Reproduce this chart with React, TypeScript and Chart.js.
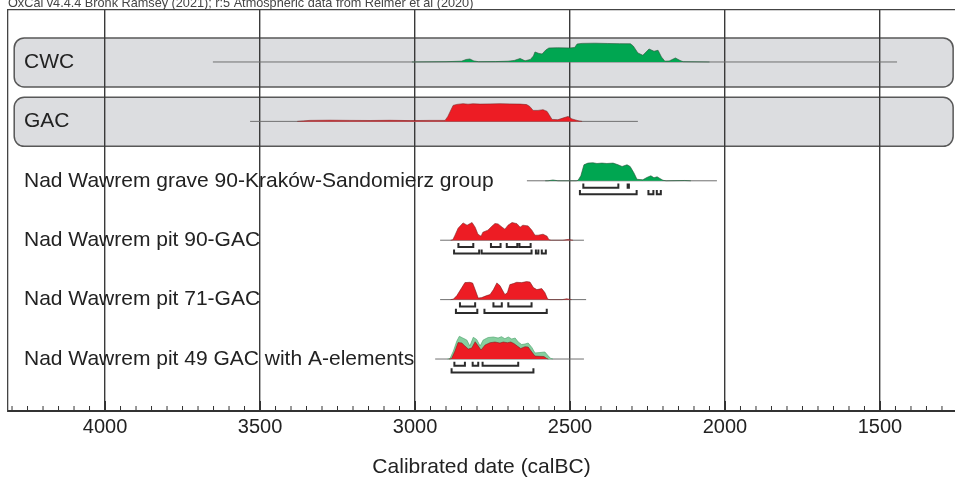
import { useEffect, useRef } from 'react';
import { Chart, registerables } from 'chart.js';

Chart.register(...registerables);

const FONT = "'Liberation Sans', Arial, Helvetica, sans-serif";

const CAPTION = 'OxCal v4.4.4 Bronk Ramsey (2021); r:5 Atmospheric data from Reimer et al (2020)';
const AXIS_TITLE = 'Calibrated date (calBC)';

const ROW_LABELS = [
  'CWC',
  'GAC',
  'Nad Wawrem grave 90-Kraków-Sandomierz group',
  'Nad Wawrem pit 90-GAC',
  'Nad Wawrem pit 71-GAC',
  'Nad Wawrem pit 49 GAC with A-elements',
];
const ROW_Y = [5, 4, 3, 2, 1, 0];

// axis range (calBC, reversed)
const X_MIN = 1258;
const X_MAX = 4313;
const Y_MIN = -0.875;
const Y_MAX = 5.875;

// group boxes (rows, date extent)
const BOX_ROWS = [5, 4];
const BOX_SPAN = [4293, 1264];

// thin range lines [from, to] (calBC)
const CWC_RANGE = [3652, 1445];
const GAC_RANGE = [3532, 2281];
const GRAVE90_RANGE = [2639, 2026];
const PIT90_RANGE = [2919, 2455];
const PIT71_RANGE = [2919, 2448];
const PIT49_RANGE = [2935, 2455];

// probability distributions: [calBC, relative probability]
const CWC_POST: [number, number][] = [
  [3010, 0], [2900, 0.3], [2850, 0.8], [2835, 2.5], [2823, 3], [2810, 1], [2795, 0.3], [2740, 0.4],
  [2700, 0.8], [2680, 1.5], [2661, 3.5], [2645, 1.2], [2628, 2.5], [2618, 6], [2613, 10], [2600, 8.5],
  [2590, 8], [2578, 12], [2568, 14], [2540, 14.2], [2500, 14], [2485, 14.5], [2477, 18], [2461, 18.6],
  [2420, 18.8], [2380, 18.5], [2340, 18.3], [2305, 18.2], [2296, 16], [2281, 9], [2265, 6.7],
  [2245, 13], [2229, 10.7], [2216, 11.7], [2205, 5], [2194, 0.8], [2180, 1], [2160, 4], [2145, 1.5],
  [2135, 0.3], [2050, 0],
];
const GAC_POST: [number, number][] = [
  [3380, 0], [3361, 0.5], [3339, 1], [3274, 1.2], [3210, 1], [3145, 0.9], [3081, 1.1], [3016, 0.8],
  [2952, 1], [2903, 1], [2894, 5], [2877, 16], [2865, 17], [2845, 17.7], [2829, 17.2], [2813, 17.6],
  [2790, 17.3], [2758, 17.5], [2726, 17.7], [2694, 17.5], [2661, 17.3], [2640, 16.8], [2630, 15],
  [2619, 11], [2603, 11], [2587, 11.7], [2574, 10], [2558, 2], [2539, 1.7], [2523, 3.3], [2506, 5],
  [2494, 2.5], [2474, 0.7], [2461, 0],
];
const GRAVE90_POST: [number, number][] = [
  [2580, 0], [2571, 0], [2555, 0.8], [2539, 0], [2480, 0], [2474, 0.5], [2465, 5], [2455, 16],
  [2442, 17.7], [2426, 18], [2413, 17.3], [2397, 17.7], [2381, 17.3], [2361, 17.7], [2345, 16],
  [2332, 14.3], [2316, 16], [2306, 14.3], [2294, 8], [2284, 1.5], [2265, 1], [2252, 3.3], [2239, 5],
  [2229, 3], [2219, 4], [2210, 2.3], [2200, 0.5], [2190, 0], [2130, 0.3], [2110, 0],
];
const PIT90_POST: [number, number][] = [
  [2885, 0], [2878, 0.5], [2871, 5], [2861, 12], [2845, 17.3], [2832, 15], [2816, 17.7], [2806, 13],
  [2797, 6], [2787, 4], [2781, 8], [2765, 10], [2752, 14], [2742, 16.7], [2732, 16.3], [2719, 13],
  [2710, 11], [2700, 15], [2687, 17.7], [2671, 16.5], [2661, 13], [2652, 15], [2635, 14.3],
  [2623, 10], [2613, 5], [2603, 5], [2587, 6], [2574, 4], [2568, 0.5], [2560, 0], [2523, 0],
  [2506, 0.8], [2490, 0],
];
const PIT71_POST: [number, number][] = [
  [2885, 0], [2876, 0.5], [2865, 4], [2849, 12], [2839, 17], [2823, 17.3], [2814, 16.5], [2806, 10],
  [2796, 1.5], [2785, 2], [2769, 4], [2758, 5], [2747, 10], [2736, 16.7], [2726, 14], [2710, 5],
  [2702, 7], [2694, 15], [2683, 16], [2672, 17.3], [2656, 17], [2640, 18], [2629, 17.5], [2618, 12],
  [2607, 10], [2591, 11], [2581, 7], [2572, 0.5], [2565, 0], [2525, 0], [2511, 0.8], [2495, 0],
];
const PIT49_LIKE: [number, number][] = [
  [2895, 0], [2887, 0.5], [2876, 8], [2865, 18], [2857, 22.7], [2846, 21], [2833, 19], [2823, 13],
  [2812, 21.7], [2801, 19.5], [2790, 13], [2780, 19], [2764, 21.5], [2747, 22], [2732, 21],
  [2721, 22.3], [2710, 20.3], [2699, 22], [2688, 20], [2677, 21], [2667, 17], [2656, 14.5],
  [2645, 15], [2635, 16], [2623, 11.5], [2613, 6], [2597, 6.5], [2581, 7], [2570, 3], [2562, 0.5],
  [2555, 0],
];
const PIT49_POST: [number, number][] = [
  [2890, 0], [2882, 0.5], [2871, 8], [2861, 16.5], [2849, 16], [2839, 13], [2828, 10], [2817, 11],
  [2806, 17.3], [2796, 13], [2787, 9], [2774, 14], [2758, 16.3], [2742, 17], [2726, 16], [2715, 17],
  [2702, 16.3], [2691, 17], [2681, 15.5], [2670, 13], [2659, 10.5], [2645, 12.3], [2635, 12],
  [2623, 7], [2613, 3], [2597, 2.7], [2584, 2.5], [2575, 0.5], [2570, 0],
];

// highest posterior density ranges [from, to] (calBC)
const GRAVE90_68 = [[2457, 2344], [2314, 2310]];
const GRAVE90_95 = [[2468, 2285], [2247, 2231], [2220, 2207]];
const PIT90_68 = [[2860, 2812], [2755, 2724], [2704, 2670], [2663, 2627]];
const PIT90_95 = [[2874, 2793], [2785, 2624], [2610, 2602], [2591, 2578]];
const PIT71_68 = [[2855, 2806], [2747, 2720], [2699, 2624]];
const PIT71_95 = [[2868, 2799], [2776, 2575]];
const PIT49_68 = [[2873, 2839], [2814, 2796], [2782, 2667]];
const PIT49_95 = [[2882, 2618]];

const GREEN = '#00a651';
const RED = '#ed1c24';
const LIGHT_GREEN = '#86cf9f';

// layout constants (in y-units)
const PROB_SCALE = 1 / 59.4;
const BRACKET_68 = 0.115;
const BRACKET_95 = 0.225;
const BRACKET_TICK = 0.07;
const BOX_ABOVE = 0.405;
const BOX_BELOW = 0.42;

type Dist = { data: [number, number][]; color: string; border: string; order: number };
const ROWS: { y: number; range: number[]; dists: Dist[]; h68: number[][]; h95: number[][] }[] = [
  { y: ROW_Y[0], range: CWC_RANGE, dists: [{ data: CWC_POST, color: GREEN, border: 'rgba(40,90,60,0.8)', order: 5 }], h68: [], h95: [] },
  { y: ROW_Y[1], range: GAC_RANGE, dists: [{ data: GAC_POST, color: RED, border: 'rgba(120,30,30,0.7)', order: 5 }], h68: [], h95: [] },
  { y: ROW_Y[2], range: GRAVE90_RANGE, dists: [{ data: GRAVE90_POST, color: GREEN, border: 'rgba(40,90,60,0.8)', order: 5 }], h68: GRAVE90_68, h95: GRAVE90_95 },
  { y: ROW_Y[3], range: PIT90_RANGE, dists: [{ data: PIT90_POST, color: RED, border: 'rgba(120,30,30,0.7)', order: 5 }], h68: PIT90_68, h95: PIT90_95 },
  { y: ROW_Y[4], range: PIT71_RANGE, dists: [{ data: PIT71_POST, color: RED, border: 'rgba(120,30,30,0.7)', order: 5 }], h68: PIT71_68, h95: PIT71_95 },
  {
    y: ROW_Y[5], range: PIT49_RANGE,
    dists: [
      { data: PIT49_POST, color: RED, border: 'rgba(120,30,30,0.7)', order: 5 },
      { data: PIT49_LIKE, color: LIGHT_GREEN, border: 'rgba(90,170,120,0.9)', order: 6 },
    ],
    h68: PIT49_68, h95: PIT49_95,
  },
];

function bracketPoints(ranges: number[][], base: number, depth: number) {
  const pts: { x: number; y: number | null }[] = [];
  const yb = base - depth;
  const yt = yb + BRACKET_TICK;
  ranges.forEach(([a, b]) => {
    pts.push({ x: a, y: yt }, { x: a, y: yb }, { x: b, y: yb }, { x: b, y: yt }, { x: b, y: null });
  });
  return pts;
}

function buildDatasets() {
  const ds: any[] = [];
  ROWS.forEach((r) => {
    ds.push({
      data: [{ x: r.range[0], y: r.y }, { x: r.range[1], y: r.y }],
      borderColor: '#707070', borderWidth: 1, pointRadius: 0, fill: false, order: 10,
      xAxisID: 'x', yAxisID: 'y',
    });
    r.dists.forEach((d) => {
      ds.push({
        data: d.data.map(([x, p]) => ({ x, y: r.y + p * PROB_SCALE })),
        backgroundColor: d.color, borderColor: d.border, borderWidth: 0.8, pointRadius: 0,
        fill: { value: r.y }, order: d.order, xAxisID: 'x', yAxisID: 'y',
      });
    });
    if (r.h68.length) {
      ds.push({
        data: bracketPoints(r.h68, r.y, BRACKET_68), borderColor: '#2b2b2b', borderWidth: 2,
        pointRadius: 0, fill: false, spanGaps: false, order: 1, xAxisID: 'x', yAxisID: 'y',
      });
    }
    if (r.h95.length) {
      ds.push({
        data: bracketPoints(r.h95, r.y, BRACKET_95), borderColor: '#2b2b2b', borderWidth: 2,
        pointRadius: 0, fill: false, spanGaps: false, order: 1, xAxisID: 'x', yAxisID: 'y',
      });
    }
  });
  return ds;
}

const boxPlugin = {
  id: 'groupBoxes',
  beforeDraw(chart: any) {
    const { ctx, scales } = chart;
    const x = scales.x;
    const y = scales.y;
    BOX_ROWS.forEach((row) => {
      const left = x.getPixelForValue(BOX_SPAN[0]);
      const right = x.getPixelForValue(BOX_SPAN[1]);
      const top = y.getPixelForValue(row + BOX_ABOVE);
      const bottom = y.getPixelForValue(row - BOX_BELOW);
      ctx.save();
      ctx.beginPath();
      ctx.roundRect(left, top, right - left, bottom - top, 10);
      ctx.fillStyle = '#dcdde0';
      ctx.fill();
      ctx.lineWidth = 1.5;
      ctx.strokeStyle = '#585858';
      ctx.stroke();
      ctx.restore();
    });
  },
};

const overlayPlugin = {
  id: 'overlay',
  afterDraw(chart: any) {
    const { ctx, chartArea } = chart;
    const x = chart.scales.x;
    ctx.save();
    ctx.strokeStyle = '#333';
    x.ticks.forEach((t: any) => {
      const px = x.getPixelForValue(t.value);
      const major = t.value % 500 === 0;
      ctx.lineWidth = major ? 2 : 1;
      ctx.beginPath();
      ctx.moveTo(px, chartArea.bottom);
      ctx.lineTo(px, chartArea.bottom - (major ? 10 : 5));
      ctx.stroke();
    });
    // caption (partly cut off at the top, as in the original)
    ctx.fillStyle = '#444';
    ctx.font = `12.7px ${FONT}`;
    ctx.textBaseline = 'alphabetic';
    ctx.textAlign = 'left';
    ctx.fillText(CAPTION, chartArea.left, chartArea.top - 3.5);
    ctx.restore();
  },
};

export default function App() {
  const ref = useRef<HTMLCanvasElement>(null);
  useEffect(() => {
    if (!ref.current) return;
    Chart.defaults.font.family = FONT;
    const chart = new Chart(ref.current, {
      type: 'line',
      data: { datasets: buildDatasets() },
      options: {
        animation: false,
        responsive: false,
        events: [],
        layout: { padding: { left: 8, right: 0, top: 10, bottom: 0 } },
        plugins: {
          legend: { display: false },
          tooltip: { enabled: false },
          title: { display: false },
        },
        scales: {
          x: {
            type: 'linear',
            position: 'bottom',
            reverse: true,
            min: X_MIN,
            max: X_MAX,
            z: 1,
            ticks: {
              stepSize: 50,
              includeBounds: false,
              autoSkip: false,
              maxRotation: 0,
              minRotation: 0,
              padding: 4,
              color: '#222',
              font: { size: 20, family: FONT },
              callback: (v: any) => (Number(v) % 500 === 0 ? String(v) : ''),
            },
            grid: {
              drawTicks: false,
              color: (c: any) => (c.tick && c.tick.value % 500 === 0 ? '#3a3a3a' : 'rgba(0,0,0,0)'),
              lineWidth: 1.4,
            },
            border: { display: true, color: '#333', width: 2 },
            title: {
              display: true,
              text: AXIS_TITLE,
              color: '#222',
              font: { size: 21, family: FONT },
              padding: { top: 11.8, bottom: 0 },
            },
            afterFit: (s: any) => {
              s.paddingLeft = 0;
              s.paddingRight = 0;
            },
          },
          x2: {
            type: 'linear',
            position: 'top',
            reverse: true,
            min: X_MIN,
            max: X_MAX,
            ticks: { display: false },
            grid: { display: false, drawTicks: false },
            border: { display: true, color: '#444', width: 1.3 },
            afterFit: (s: any) => {
              s.height = 0;
              s.paddingLeft = 0;
              s.paddingRight = 0;
            },
          },
          y: {
            type: 'linear',
            min: Y_MIN,
            max: Y_MAX,
            afterBuildTicks: (s: any) => {
              s.ticks = ROW_Y.map((v) => ({ value: v }));
            },
            afterFit: (s: any) => {
              s.width = 0;
              s.paddingTop = 0;
              s.paddingBottom = 0;
            },
            ticks: {
              mirror: true,
              padding: 16,
              color: '#222',
              font: { size: 21, family: FONT },
              callback: (v: any) => ROW_LABELS[ROW_Y.indexOf(Number(v))] ?? '',
            },
            grid: { display: false, drawTicks: false },
            border: { display: true, color: '#444', width: 1.3 },
          },
        },
      } as any,
      plugins: [boxPlugin, overlayPlugin],
    });
    return () => chart.destroy();
  }, []);
  return (
    <div style={{ position: 'absolute', left: 0, top: 0, width: 955, height: 480 }}>
      <canvas ref={ref} width={955} height={480} style={{ display: 'block' }} />
    </div>
  );
}
